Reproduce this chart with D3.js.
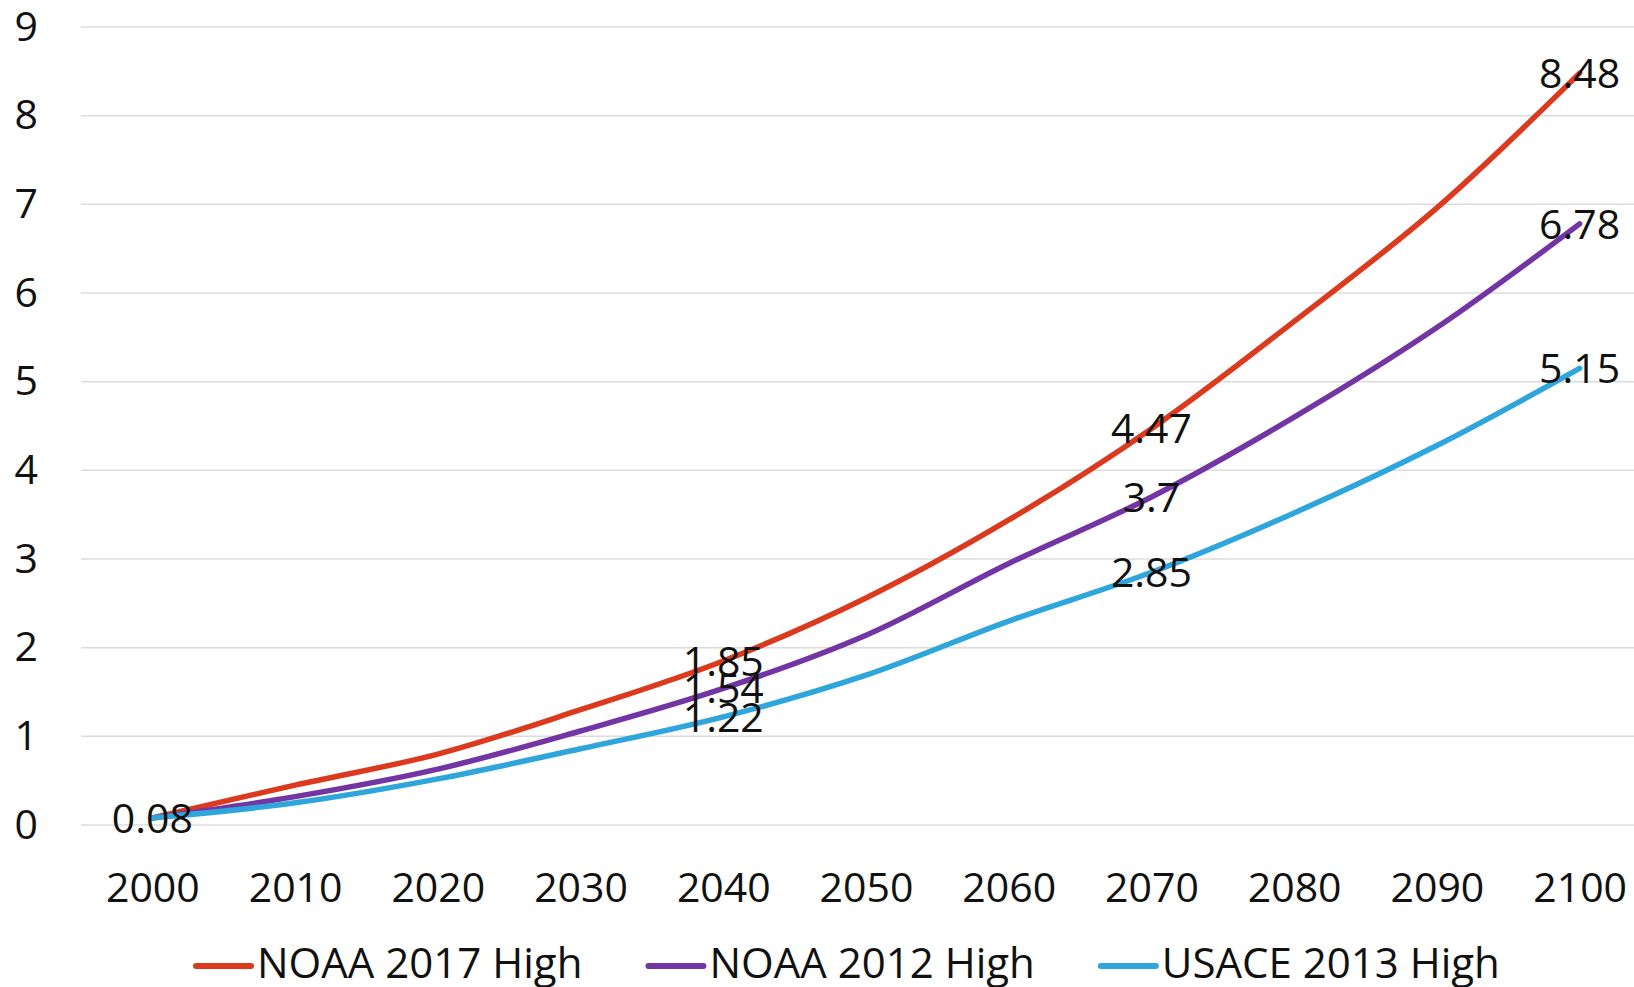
<!DOCTYPE html>
<html>
<head>
<meta charset="utf-8">
<script src="https://cdn.jsdelivr.net/npm/d3@7"></script>
<style>
  html, body { margin: 0; padding: 0; background: #fff; }
  svg { display: block; }
  text { font-family: "Open Sans", "Noto Sans", sans-serif; fill: #111; }
</style>
</head>
<body>
<svg id="chart" width="1634" height="987"></svg>
<script>
// ---- data ----
const years = ["2000","2010","2020","2030","2040","2050","2060","2070","2080","2090","2100"];
const yTicks = [0,1,2,3,4,5,6,7,8,9];
const seriesNames = ["NOAA 2017 High", "NOAA 2012 High", "USACE 2013 High"];
const noaa2017 = [0.08, 0.45, 0.80, 1.30, 1.85, 2.56, 3.44, 4.47, 5.68, 6.96, 8.48];
const noaa2012 = [0.08, 0.32, 0.63, 1.06, 1.54, 2.14, 2.95, 3.70, 4.60, 5.61, 6.78];
const usace2013 = [0.08, 0.25, 0.52, 0.86, 1.22, 1.69, 2.30, 2.85, 3.52, 4.28, 5.15];
const labelYears2017 = ["2000","2040","2070","2100"];
const labelYears2012 = ["2040","2070","2100"];
const labelYearsUsace = ["2040","2070","2100"];

const colors = ["#DB3A1E", "#7334A4", "#2EA6DC"];
const series = [
  { name: seriesNames[0], values: noaa2017, labels: labelYears2017, color: colors[0] },
  { name: seriesNames[1], values: noaa2012, labels: labelYears2012, color: colors[1] },
  { name: seriesNames[2], values: usace2013, labels: labelYearsUsace, color: colors[2] }
];

const svg = d3.select("#chart");
const W = 1634, H = 987;
const FS = 41;

const x = d3.scalePoint().domain(years).range([81, 1651]).padding(0.5);
const y = d3.scaleLinear().domain([0, 9]).range([825, 27]);

// gridlines
svg.append("g").selectAll("line").data(yTicks).join("line")
  .attr("x1", 81).attr("x2", W)
  .attr("y1", d => y(d)).attr("y2", d => y(d))
  .attr("stroke", "#DCDCDC").attr("stroke-width", 1.5);

// y axis labels
const yAxis = d3.axisLeft(y).tickValues(yTicks).tickSize(0).tickPadding(0).tickFormat(d3.format("d"));
const gy = svg.append("g").attr("transform", "translate(38,0)").call(yAxis);
gy.select(".domain").remove();
gy.selectAll("text").attr("font-size", FS).style("font-family", '"Open Sans", sans-serif').attr("fill", "#111");

// x axis labels
const xAxis = d3.axisBottom(x).tickSize(0).tickPadding(0);
const gx = svg.append("g").attr("transform", "translate(0,872)").call(xAxis);
gx.select(".domain").remove();
gx.selectAll("text").attr("font-size", FS).attr("dy", "0.72em").style("font-family", '"Open Sans", sans-serif').attr("fill", "#111");

// lines
const line = d3.line()
  .x((d, i) => x(years[i]))
  .y(d => y(d))
  .curve(d3.curveCatmullRom.alpha(0.5));

svg.append("g").selectAll("path").data(series).join("path")
  .attr("d", d => line(d.values))
  .attr("fill", "none")
  .attr("stroke", d => d.color)
  .attr("stroke-width", 5.5)
  .attr("stroke-linecap", "round")
  .attr("stroke-linejoin", "round");

// data labels
const labelData = [];
series.forEach(s => s.labels.forEach(yr => {
  const i = years.indexOf(yr);
  labelData.push({ yr, v: s.values[i] });
}));
svg.append("g").selectAll("text").data(labelData).join("text")
  .attr("x", d => x(d.yr))
  .attr("y", d => y(d.v))
  .attr("dy", "0.36em")
  .attr("text-anchor", "middle")
  .attr("font-size", FS)
  .text(d => String(d.v));

// legend
const legend = svg.append("g");
let lx = 196;
const ly = 966;
series.forEach(s => {
  legend.append("line")
    .attr("x1", lx).attr("x2", lx + 55)
    .attr("y1", ly).attr("y2", ly)
    .attr("stroke", s.color).attr("stroke-width", 6).attr("stroke-linecap", "round");
  const t = legend.append("text")
    .attr("x", lx + 61).attr("y", 978)
    .attr("font-size", 42)
    .text(s.name);
  const w = t.node().getComputedTextLength();
  lx = lx + 61 + w + 66;
});
</script>
</body>
</html>
